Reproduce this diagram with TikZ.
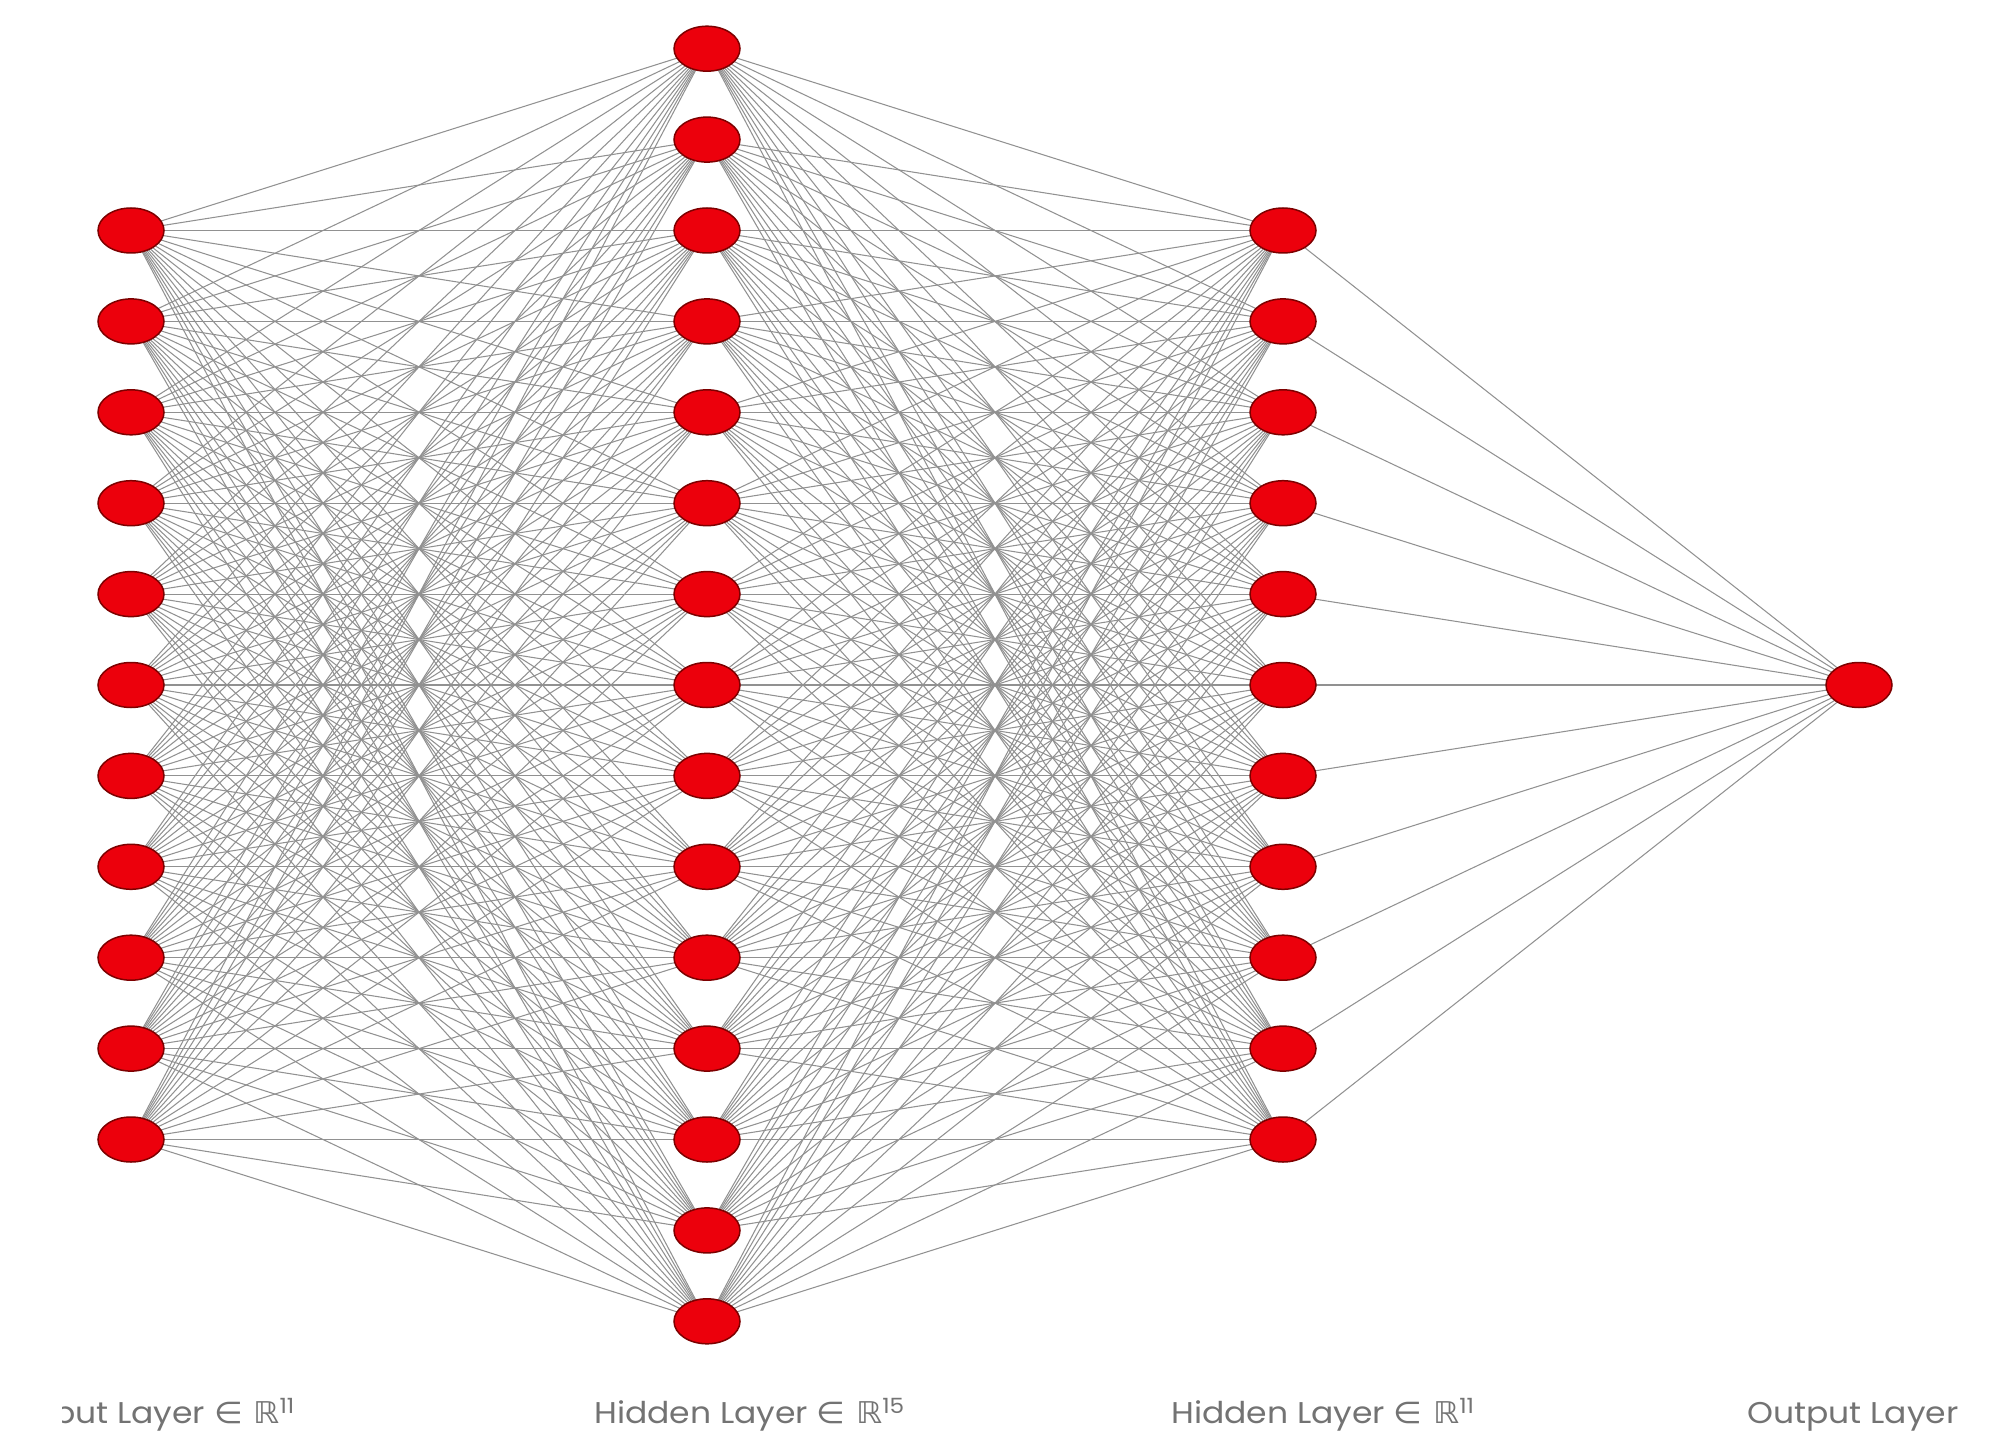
\documentclass[tikz,border=0pt]{standalone}
\usepackage{fontspec}
\setmainfont{Poppins}[FakeStretch=1.1]
\newfontfamily\dejavu{DejaVu Sans}[FakeStretch=1.1]
\usetikzlibrary{shapes.geometric,backgrounds}
\definecolor{nred}{RGB}{236,0,12}
\definecolor{nborder}{RGB}{125,0,0}
\definecolor{edgegray}{RGB}{145,145,145}
\definecolor{labgray}{RGB}{115,115,115}
\begin{document}
\begin{tikzpicture}[x=1pt,y=-1pt,
  neuron/.style={ellipse, draw=nborder, line width=1.5pt, fill=nred, minimum width=66pt, minimum height=45pt, inner sep=0pt},
  conn/.style={draw=edgegray, line width=1.05pt},
  lab/.style={font=\fontsize{30}{32}\selectfont, text=labgray, inner sep=0pt}]
\useasboundingbox (0,0) rectangle (1992,1431);
\foreach \i in {1,...,11} \node[neuron] (a\i) at (131, {685+(\i-6)*90.9}) {};
\foreach \i in {1,...,15} \node[neuron] (b\i) at (707, {685+(\i-8)*90.9}) {};
\foreach \i in {1,...,11} \node[neuron] (c\i) at (1283, {685+(\i-6)*90.9}) {};
\node[neuron] (d) at (1859,685) {};
\begin{scope}[on background layer]
  \foreach \i in {1,...,11} \foreach \j in {1,...,15} \draw[conn] (a\i.center) -- (b\j.center);
  \foreach \i in {1,...,15} \foreach \j in {1,...,11} \draw[conn] (b\i.center) -- (c\j.center);
  \foreach \i in {1,...,11} \draw[conn] (c\i.center) -- (d.center);
\end{scope}
\begin{scope}
  \clip (62,1370) rectangle (600,1431);
  \node[lab, anchor=base east] (l1) at (295,1423) {Input Layer {\dejavu ∈ ℝ}\textsuperscript{11}};
\end{scope}
\node[lab, anchor=base west] (l2) at (594,1423) {Hidden Layer {\dejavu ∈ ℝ}\textsuperscript{15}};
\node[lab, anchor=base west] (l3) at (1171,1423) {Hidden Layer {\dejavu ∈ ℝ}\textsuperscript{11}};
\node[lab, anchor=base west] (l4) at (1747,1423) {Output Layer};
\end{tikzpicture}
\end{document}
